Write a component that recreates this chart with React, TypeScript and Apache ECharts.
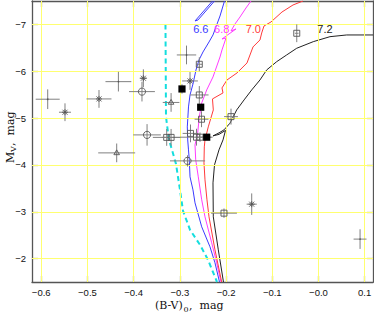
import React, { useEffect, useRef } from "react";
import * as echarts from "echarts";

// ---------- axes ----------
const xTickValues = [-0.6, -0.5, -0.4, -0.3, -0.2, -0.1, 0, 0.1];
const xTickLabels = ["−0.6", "−0.5", "−0.4", "−0.3", "−0.2", "−0.1", "−0.0", "0.1"];
const yTickValues = [-7, -6, -5, -4, -3, -2];
const yTickLabels = ["−7", "−6", "−5", "−4", "−3", "−2"];

// ---------- curves [B-V, Mv] ----------
const zamsCyan: number[][] = [
  [-0.3311, -7.0], [-0.330, -5.025], [-0.3235, -4.534], [-0.317, -4.321], [-0.3084, -4.022],
  [-0.2997, -3.467], [-0.2932, -3.019], [-0.278, -2.614], [-0.2564, -2.294], [-0.2391, -1.974],
  [-0.2196, -1.5],
];
const iso66: number[][] = [
  [-0.2034, -7.5], [-0.2131, -7.18], [-0.2283, -6.775], [-0.2369, -6.625], [-0.2499, -6.412],
  [-0.2586, -6.241], [-0.2651, -6.028], [-0.2716, -5.729], [-0.278, -5.494], [-0.2813, -5.238],
  [-0.2839, -4.812], [-0.283, -4.534], [-0.2813, -4.321], [-0.2796, -4.108], [-0.278, -3.745],
  [-0.2716, -3.467], [-0.2672, -3.19], [-0.2527, -2.678], [-0.2348, -2.251], [-0.224, -1.91],
  [-0.2142, -1.5],
];
const iso66Loop: number[][] = [
  [-0.2294, -7.5], [-0.2672, -7.073], [-0.2607, -7.095], [-0.225, -7.5],
];
const iso68: number[][] = [
  [-0.146, -7.5], [-0.1569, -7.351], [-0.1698, -7.159], [-0.1807, -7.009], [-0.1893, -6.86],
  [-0.1785, -6.903], [-0.2088, -6.689], [-0.2001, -6.71], [-0.2088, -6.455], [-0.2131, -6.305],
  [-0.2283, -5.878], [-0.2419, -5.601], [-0.2527, -5.324], [-0.2579, -5.025], [-0.2614, -4.684],
  [-0.2672, -4.428], [-0.2657, -4.108], [-0.2601, -3.745], [-0.2527, -3.254], [-0.2456, -2.891],
  [-0.2311, -2.337], [-0.2203, -1.91], [-0.211, -1.5],
];
const iso70: number[][] = [
  [-0.0335, -7.5], [-0.0551, -7.415], [-0.079, -7.265], [-0.1028, -7.052], [-0.1179, -6.967],
  [-0.1229, -6.817], [-0.1266, -6.668], [-0.1417, -6.519], [-0.1547, -6.177], [-0.1763, -5.964],
  [-0.198, -5.814], [-0.2088, -5.644], [-0.2066, -5.537], [-0.2294, -5.409], [-0.2276, -5.174],
  [-0.2385, -4.812], [-0.2456, -4.534], [-0.2471, -4.385], [-0.2478, -4.044], [-0.2456, -3.681],
  [-0.2413, -3.254], [-0.2369, -2.891], [-0.224, -2.187], [-0.2095, -1.5],
];
const iso72: number[][] = [
  [0.118, -6.775], [0.0611, -6.775], [0.0249, -6.738], [-0.0112, -6.632], [-0.0471, -6.491],
  [-0.0688, -6.348], [-0.0904, -6.205], [-0.1121, -6.028], [-0.1266, -5.814], [-0.1445, -5.601],
  [-0.161, -5.388], [-0.177, -5.174], [-0.1915, -4.891], [-0.2045, -4.748], [-0.2153, -4.684],
  [-0.2283, -4.62], [-0.2153, -4.652], [-0.2012, -4.737], [-0.2066, -4.534], [-0.2153, -4.321],
  [-0.225, -4.001], [-0.2283, -3.617], [-0.2276, -2.891], [-0.2168, -2.187], [-0.2056, -1.5],
];
const isoLabels = ["6.6", "6.8", "7.0", "7.2"];
const isoLabelX = [-0.2547, -0.2095, -0.141, 0.0141];
const isoLabelY = [-6.909, -6.909, -6.909, -6.909];

// ---------- stars [B-V, Mv, err(B-V), err(Mv)] ----------
const crossPts: number[][] = [
  [-0.586, -5.403, 0.026, 0.21],
  [-0.433, -5.778, 0.028, 0.21],
  [-0.2856, -6.348, 0.021, 0.2],
  [0.09, -2.416, 0.014, 0.21],
];
const starPts: number[][] = [
  [-0.5486, -5.125, 0.013, 0.19],
  [-0.475, -5.409, 0.027, 0.19],
  [-0.379, -5.851, 0.008, 0.19],
  [-0.278, -5.793, 0.017, 0.19],
  [-0.1445, -3.162, 0.011, 0.23],
];
const circlePts: number[][] = [
  [-0.382, -5.565, 0.028, 0.21],
  [-0.371, -4.641, 0.03, 0.23],
  [-0.2834, -4.086, 0.038, 0.12],
];
const trianglePts: number[][] = [
  [-0.319, -5.334, 0.018, 0.2],
  [-0.4367, -4.257, 0.04, 0.2],
];
const openSquarePts: number[][] = [
  [-0.3285, -4.588, 0.03, 0.18],
  [-0.319, -4.588, 0.02, 0.18],
  [-0.2579, -6.149, 0.006, 0.15],
  [-0.2579, -5.494, 0.02, 0.19],
  [-0.2531, -4.976, 0.015, 0.17],
  [-0.1893, -5.031, 0.015, 0.17],
  [-0.277, -4.673, 0.017, 0.19],
  [-0.264, -4.592, 0.035, 0.18],
  [-0.2564, -4.592, 0.01, 0.1],
  [-0.047, -6.811, 0.004, 0.19],
  [-0.2045, -2.97, 0.028, 0.1],
];
const filledSquarePts: number[][] = [
  [-0.2954, -5.622, 0.006, 0.1],
  [-0.2549, -5.232, 0, 0],
  [-0.2419, -4.592, 0.01, 0],
];

const ERR = "#808080";
const MK = "#555555";

function markerShape(kind: string, x: number, y: number): any[] {
  const st = { stroke: MK, lineWidth: 0.9, fill: "none" };
  switch (kind) {
    case "cross":
      return [{ type: "circle", shape: { cx: x, cy: y, r: 0.8 }, style: { fill: MK } }];
    case "star":
      return [
        { type: "line", shape: { x1: x - 2.5, y1: y - 2.5, x2: x + 2.5, y2: y + 2.5 }, style: st },
        { type: "line", shape: { x1: x - 2.5, y1: y + 2.5, x2: x + 2.5, y2: y - 2.5 }, style: st },
        { type: "line", shape: { x1: x - 3, y1: y, x2: x + 3, y2: y }, style: st },
        { type: "line", shape: { x1: x, y1: y - 3, x2: x, y2: y + 3 }, style: st },
      ];
    case "circle":
      return [{ type: "circle", shape: { cx: x, cy: y, r: 3.6 }, style: st }];
    case "triangle":
      return [
        {
          type: "polygon",
          shape: { points: [[x, y - 3], [x + 2.8, y + 1.8], [x - 2.8, y + 1.8]] },
          style: st,
        },
      ];
    case "square":
      return [{ type: "rect", shape: { x: x - 3, y: y - 3, width: 6, height: 6 }, style: st }];
    case "filled":
      return [{ type: "rect", shape: { x: x - 3.6, y: y - 3.6, width: 7.2, height: 7.2 }, style: { fill: "#000" } }];
  }
  return [];
}

function pointSeries(kind: string, data: number[][]) {
  return {
    type: "custom",
    z: 5,
    clip: true,
    silent: true,
    encode: { x: 0, y: 1 },
    data,
    renderItem: (params: any, api: any) => {
      const c = api.coord([api.value(0), api.value(1)]);
      const s = api.size([api.value(2), api.value(3)]);
      const ex = Math.abs(s[0]);
      const ey = Math.abs(s[1]);
      const children: any[] = [];
      if (ex > 0)
        children.push({ type: "line", shape: { x1: c[0] - ex, y1: c[1], x2: c[0] + ex, y2: c[1] }, style: { stroke: ERR, lineWidth: 1 } });
      if (ey > 0)
        children.push({ type: "line", shape: { x1: c[0], y1: c[1] - ey, x2: c[0], y2: c[1] + ey }, style: { stroke: ERR, lineWidth: 1 } });
      children.push(...markerShape(kind, c[0], c[1]));
      return { type: "group", children };
    },
  };
}

function lineSeries(data: number[][], color: string, extra: any = {}) {
  return {
    type: "line",
    data,
    showSymbol: false,
    symbol: "none",
    silent: true,
    clip: true,
    z: 3,
    lineStyle: { color, width: 1, ...extra },
  };
}

const isoColors = ["#3a3aff", "#ff3cff", "#ff3a3a", "#222222"];

export default function App() {
  const ref = useRef<HTMLDivElement>(null);
  useEffect(() => {
    if (!ref.current) return;
    const chart = echarts.init(ref.current, undefined, { renderer: "svg" });
    const xFmt = (v: number) => {
      const i = xTickValues.findIndex((t) => Math.abs(t - v) < 1e-6);
      return i >= 0 ? xTickLabels[i] : "";
    };
    const yFmt = (v: number) => {
      const i = yTickValues.findIndex((t) => Math.abs(t - v) < 1e-6);
      return i >= 0 ? yTickLabels[i] : "";
    };
    const axisLine = { show: true, onZero: false, lineStyle: { color: "#555", width: 1.3 } };
    const tickStyle = { color: "#7b7b3a", width: 1.2 };
    const labelFont = { fontFamily: "Liberation Sans", fontSize: 9.5, color: "#111" };
    const xBase = {
      type: "value",
      min: -0.62,
      max: 0.118,
      splitLine: { show: false },
      axisLine,
      axisTick: { show: true, inside: true, length: 6, customValues: xTickValues, lineStyle: tickStyle },
    };
    const yBase = {
      type: "value",
      min: -7.5,
      max: -1.5,
      inverse: true,
      splitLine: { show: false },
      axisLine,
      axisTick: { show: true, inside: true, length: 6, customValues: yTickValues, lineStyle: tickStyle },
    };
    const option: any = {
      animation: false,
      backgroundColor: "#ffffff",
      grid: { left: 32, right: 1, top: 1, bottom: 32, containLabel: false, outerBoundsMode: "none" },
      xAxis: [
        { ...xBase, position: "bottom", axisLabel: { show: true, customValues: xTickValues, formatter: xFmt, margin: 5, ...labelFont } },
        { ...xBase, position: "top", axisLabel: { show: false } },
      ],
      yAxis: [
        { ...yBase, position: "left", axisLabel: { show: true, customValues: yTickValues, formatter: yFmt, margin: 6, ...labelFont } },
        { ...yBase, position: "right", axisLabel: { show: false } },
      ],
      series: [
        {
          type: "scatter",
          data: [[-0.6, -7]],
          symbolSize: 0,
          silent: true,
          z: 1,
          markLine: {
            silent: true,
            symbol: ["none", "none"],
            label: { show: false },
            emphasis: { disabled: true },
            lineStyle: { color: "#ffff70", width: 1, type: "solid" },
            data: [
              ...xTickValues.map((v) => ({ xAxis: v })),
              ...yTickValues.map((v) => ({ yAxis: v })),
            ],
          },
        },
        lineSeries(zamsCyan, "#14dede", { width: 2, type: [5, 3.5] }),
        lineSeries(iso66, isoColors[0]),
        lineSeries(iso66Loop, isoColors[0]),
        lineSeries(iso68, isoColors[1]),
        lineSeries(iso70, isoColors[2]),
        lineSeries(iso72, isoColors[3]),
        {
          type: "custom",
          z: 6,
          silent: true,
          encode: { x: 0, y: 1 },
          data: isoLabelX.map((x, i) => [x, isoLabelY[i]]),
          renderItem: (params: any, api: any) => {
            const c = api.coord([api.value(0), api.value(1)]);
            return {
              type: "text",
              x: c[0],
              y: c[1],
              style: {
                text: isoLabels[params.dataIndex],
                fill: isoColors[params.dataIndex],
                font: "11px 'Liberation Sans'",
                align: "center",
                verticalAlign: "middle",
              },
            };
          },
        },
        pointSeries("cross", crossPts),
        pointSeries("star", starPts),
        pointSeries("circle", circlePts),
        pointSeries("triangle", trianglePts),
        pointSeries("square", openSquarePts),
        pointSeries("filled", filledSquarePts),
      ],
      graphic: [
        { type: "text", x: 155, y: 305, style: { text: "(B-V)", font: "11px 'DejaVu Serif'", fill: "#111", verticalAlign: "middle" } },
        { type: "text", x: 183.5, y: 309, style: { text: "0", font: "8px 'DejaVu Serif'", fill: "#111", verticalAlign: "middle" } },
        { type: "text", x: 189, y: 305, style: { text: ",  mag", font: "11px 'DejaVu Serif'", fill: "#111", verticalAlign: "middle" } },
        {
          type: "group",
          x: 10,
          y: 163,
          rotation: Math.PI / 2,
          children: [
            { type: "text", x: 0, y: 0, style: { text: "M", font: "11px 'DejaVu Serif'", fill: "#111", verticalAlign: "middle" } },
            { type: "text", x: 11, y: 3, style: { text: "V", font: "8px 'DejaVu Serif'", fill: "#111", verticalAlign: "middle" } },
            { type: "text", x: 17, y: 0, style: { text: ",  mag", font: "11px 'DejaVu Serif'", fill: "#111", verticalAlign: "middle" } },
          ],
        },
      ],
    };
    chart.setOption(option);
    return () => chart.dispose();
  }, []);
  return (
    <div
      ref={ref}
      style={{ position: "absolute", left: 0, top: 0, width: 374, height: 314 }}
    />
  );
}
